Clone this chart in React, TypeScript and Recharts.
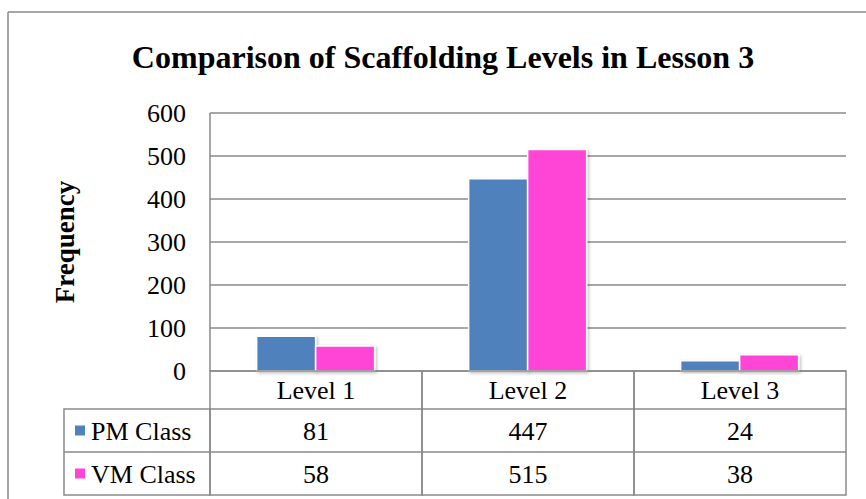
import { BarChart, Bar, XAxis, YAxis, CartesianGrid } from "recharts";

const categories = ["Level 1", "Level 2", "Level 3"];
const pmClass = [81, 447, 24];
const vmClass = [58, 515, 38];
const yTicks = [0, 100, 200, 300, 400, 500, 600];

const SERIES = [
  { key: "pm", name: "PM Class", color: "#4F81BD", values: pmClass },
  { key: "vm", name: "VM Class", color: "#FF45D5", values: vmClass },
];

const data = categories.map((level, i) => ({
  level,
  pm: pmClass[i],
  vm: vmClass[i],
}));

const W = 866;
const H = 499;
const PLOT_LEFT = 210;
const PLOT_RIGHT = 846;
const PLOT_TOP = 113;
const PLOT_BOTTOM = 371;
const ROW_LINES = [PLOT_BOTTOM, 409, 452, 495];
const LEGEND_LEFT = 64;
const COL_W = (PLOT_RIGHT - PLOT_LEFT) / categories.length;
const GRID = "#8a8a8a";
const FONT = "'Liberation Serif', 'Times New Roman', serif";

// x axis tick draws one column of the data table (plus the legend column for the first one)
const TableTick = (props: any) => {
  const { x, payload, index } = props;
  const left = x - COL_W / 2;
  const right = x + COL_W / 2;
  const mid = (a: number, b: number) => (a + b) / 2;
  return (
    <g>
      <rect
        x={left}
        y={ROW_LINES[0]}
        width={COL_W}
        height={ROW_LINES[3] - ROW_LINES[0]}
        fill="none"
        stroke={GRID}
        strokeWidth={1.5}
      />
      <line x1={left} x2={right} y1={ROW_LINES[1]} y2={ROW_LINES[1]} stroke={GRID} strokeWidth={1.5} />
      <line x1={left} x2={right} y1={ROW_LINES[2]} y2={ROW_LINES[2]} stroke={GRID} strokeWidth={1.5} />
      <text x={x} y={mid(ROW_LINES[0], ROW_LINES[1])} dy="0.35em" textAnchor="middle" fontSize={26} fontFamily={FONT} fill="#000">
        {payload.value}
      </text>
      {SERIES.map((s, r) => (
        <text
          key={s.key}
          x={x}
          y={mid(ROW_LINES[r + 1], ROW_LINES[r + 2])}
          dy="0.35em"
          textAnchor="middle"
          fontSize={26}
          fontFamily={FONT}
          fill="#000"
        >
          {s.values[index]}
        </text>
      ))}
      {index === 0 && (
        <g>
          <rect
            x={LEGEND_LEFT}
            y={ROW_LINES[1]}
            width={left - LEGEND_LEFT}
            height={ROW_LINES[3] - ROW_LINES[1]}
            fill="none"
            stroke={GRID}
            strokeWidth={1.5}
          />
          <line x1={LEGEND_LEFT} x2={left} y1={ROW_LINES[2]} y2={ROW_LINES[2]} stroke={GRID} strokeWidth={1.5} />
          {SERIES.map((s, r) => {
            const cy = mid(ROW_LINES[r + 1], ROW_LINES[r + 2]);
            return (
              <g key={s.key}>
                <rect x={75} y={cy - 5} width={10} height={10} fill={s.color} />
                <text x={91} y={cy} dy="0.35em" fontSize={26} fontFamily={FONT} fill="#000">
                  {s.name}
                </text>
              </g>
            );
          })}
        </g>
      )}
    </g>
  );
};

export default function App() {
  return (
    <div style={{ position: "relative", width: W, height: H, background: "#fff", overflow: "hidden" }}>
      <style>{"body{margin:0}"}</style>
      <svg width={W} height={H} style={{ position: "absolute", left: 0, top: 0 }}>
        <defs>
          <filter id="barShadow" x="-20%" y="-20%" width="140%" height="140%">
            <feDropShadow dx="1.5" dy="1.5" stdDeviation="1.5" floodColor="#000" floodOpacity="0.25" />
          </filter>
        </defs>
        <line x1={8} x2={8} y1={12} y2={H} stroke={GRID} strokeWidth={1.5} />
        <line x1={8} x2={W} y1={12} y2={12} stroke={GRID} strokeWidth={1.5} />
        <text x={443} y={68} textAnchor="middle" fontSize={32} fontWeight="bold" fontFamily={FONT} fill="#000">
          Comparison of Scaffolding Levels in Lesson 3
        </text>
        <text
          x={65}
          y={242}
          dy="0.35em"
          textAnchor="middle"
          transform="rotate(-90 65 242)"
          fontSize={27}
          fontWeight="bold"
          fontFamily={FONT}
          fill="#000"
        >
          Frequency
        </text>
      </svg>
      <div style={{ position: "absolute", left: 0, top: 0 }}>
        <BarChart
          width={W}
          height={H}
          data={data}
          margin={{ top: PLOT_TOP, right: W - PLOT_RIGHT, bottom: 0, left: PLOT_LEFT - 60 }}
          barCategoryGap="22%"
          barGap={0}
        >
          <CartesianGrid vertical={false} stroke={GRID} strokeWidth={1.5} />
          <XAxis
            dataKey="level"
            height={H - PLOT_BOTTOM}
            axisLine={false}
            tickLine={false}
            tick={<TableTick />}
            interval={0}
          />
          <YAxis
            width={60}
            domain={[0, 600]}
            ticks={yTicks}
            axisLine={{ stroke: GRID, strokeWidth: 1.5 }}
            tickLine={false}
            tickSize={0}
            tickMargin={24}
            tick={{ fontSize: 26, fontFamily: FONT, fill: "#000" }}
          />
          {SERIES.map((s) => (
            <Bar
              key={s.key}
              dataKey={s.key}
              name={s.name}
              fill={s.color}
              stroke="#fff"
              strokeWidth={1.5}
              filter="url(#barShadow)"
              isAnimationActive={false}
            />
          ))}
        </BarChart>
      </div>
    </div>
  );
}
